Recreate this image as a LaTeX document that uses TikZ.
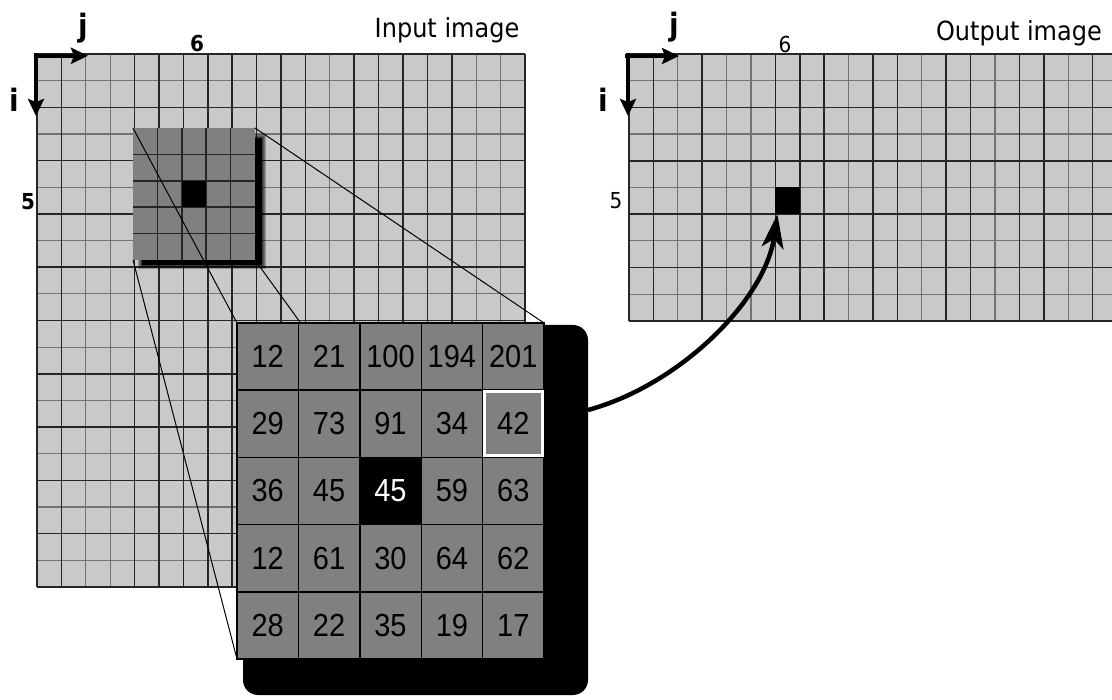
\documentclass[tikz,border=0pt]{standalone}
\usepackage{fontspec}
\usepackage{graphicx}
\setmainfont{DejaVu Sans}
\newfontfamily\numfont{Liberation Sans}
\usetikzlibrary{arrows.meta}
\definecolor{imgbg}{RGB}{201,201,201}
\definecolor{winfill}{RGB}{128,128,128}
\newcommand{\tallt}[1]{\scalebox{1}[1.1]{#1}}
\begin{document}
\begin{tikzpicture}[x=1pt,y=-1pt,
  darkln/.style={black!85,line width=1.5pt},
  lightln/.style={black!55,line width=1.2pt},
  axisarrow/.style={line width=4.5pt,-{Stealth[length=17pt,width=16pt,inset=3pt]}},
  bigl/.style={inner sep=0pt,font=\bfseries\fontsize{28}{30}\selectfont},
  idxb/.style={inner sep=0pt,font=\bfseries\fontsize{20}{22}\selectfont},
  idx/.style={inner sep=0pt,font=\fontsize{20}{22}\selectfont},
  ttl/.style={inner sep=0pt,font=\fontsize{24}{26}\selectfont},
  cell/.style={draw=black,line width=1.4pt,minimum width=61.4pt,minimum height=67.2pt,inner sep=0pt,outer sep=0pt,font=\numfont\fontsize{29}{31}\selectfont},
  link/.style={black,line width=1pt},
  box/.style={inner sep=0pt,outer sep=0pt,draw=none},
]
\useasboundingbox (0,0) rectangle (1112,700);

% ---------------- input image ----------------
\fill[imgbg] (37,54) rectangle (525,587);
\foreach \r in {1,3,...,19} \draw[lightln] (37,{54+\r*26.65}) -- (525,{54+\r*26.65});
\foreach \c in {2,3,12,18,19} \draw[lightln] ({37+\c*24.4},54) -- ({37+\c*24.4},587);
\foreach \r in {0,2,...,20} \draw[darkln] (37,{54+\r*26.65}) -- (525,{54+\r*26.65});
\foreach \c in {0,1,4,5,6,7,8,9,10,11,13,14,15,16,17,20} \draw[darkln] ({37+\c*24.4},54) -- ({37+\c*24.4},587);

% axes of input
\draw[axisarrow] (34,55.8) -- (88,55.8);
\draw[axisarrow] (36,53.5) -- (36,116);
\node[bigl] (inj) at (83,28) {\tallt{j}};
\node[bigl] (ini) at (14,100) {\tallt{i}};
\node[idxb] (in6) at (197,44) {\tallt{6}};
\node[idxb] (in5) at (28,202) {\tallt{5}};
\node[ttl] (intitle) at (447,30) {\tallt{Input image}};

% window with blurred shadow
\foreach \e in {1,2,3,4}
  \fill[black,opacity=0.25] ({142-\e},{138-\e}) rectangle ({262+\e},{265+\e});
\fill[black] (142,138) rectangle (262,265);
\node[box,fill=winfill,minimum width=122pt,minimum height=132pt] (win) at (194,194) {};
\foreach \k in {1,...,4} {
  \draw[darkln] ({133+\k*24.4},128) -- ({133+\k*24.4},260);
  \draw[darkln] (133,{128+\k*26.4}) -- (255,{128+\k*26.4});
}
\fill[black] (181.8,180.8) rectangle (206.2,207.2);

% table frame (for the links)
\node[box,minimum width=307pt,minimum height=336pt] (tab) at (390.5,491) {};

% links from window to table
\draw[link] (win.north west) -- (tab.north west);
\draw[link] (win.south west) -- (tab.south west);
\draw[link] (win.north east) -- (tab.north east);
\draw[link] (win.south east) -- (tab.south east);

% table shadow
\node[box,fill=black,rounded corners=15pt,minimum width=345pt,minimum height=370pt] (tabsh) at (415.5,510) {};

% table cells
\foreach \row [count=\r from 0] in {{12,21,100,194,201},{29,73,91,34,42},{36,45,45,59,63},{12,61,30,64,62},{28,22,35,19,17}} {
  \foreach \val [count=\c from 0] in \row {
    \ifnum\r\c=22 \def\cf{black}\def\tc{white}\else\def\cf{winfill}\def\tc{black}\fi
    \node[cell,fill=\cf,text=\tc] (c-\r-\c) at ({237+30.7+\c*61.4},{323+33.6+\r*67.2}) {\tallt{\val}};
  }
}
\draw[white,line width=3pt] ([shift={(1.8,1.8)}]c-1-4.north west) rectangle ([shift={(-1.8,-1.8)}]c-1-4.south east);

% ---------------- output image ----------------
\fill[imgbg] (629,54) rectangle (1112,321);
\foreach \r in {1,3,...,9} \draw[lightln] (629,{54+\r*26.7}) -- (1112,{54+\r*26.7});
\foreach \c in {2,4,5,9,12,15,18} \draw[lightln] ({629+\c*24.4},54) -- ({629+\c*24.4},321);
\foreach \r in {0,2,...,10} \draw[darkln] (629,{54+\r*26.7}) -- (1112,{54+\r*26.7});
\foreach \c in {0,1,3,6,7,8,10,11,13,14,16,17,19} \draw[darkln] ({629+\c*24.4},54) -- ({629+\c*24.4},321);
\node[box,fill=black,minimum width=24.4pt,minimum height=26.7pt] (outpx) at (787.6,200.85) {};

\draw[axisarrow] (625,56) -- (679,56);
\draw[axisarrow] (628,53.5) -- (628,116);
\node[bigl] (outj) at (674,27) {\tallt{j}};
\node[bigl] (outi) at (603,100) {\tallt{i}};
\node[idx] (out6) at (785,44) {\tallt{6}};
\node[idx] (out5) at (616,201) {\tallt{5}};
\node[ttl,anchor=east] (outtitle) at (1102,33) {\tallt{Output image}};

% arrow from window result to output pixel
\draw[line width=4.5pt,-{Stealth[length=34pt,width=22pt,inset=9pt]}]
  ([yshift=100pt]tabsh.east) .. controls (680,385) and (765,300) .. ([xshift=2pt]outpx.south west);
\end{tikzpicture}
\end{document}
